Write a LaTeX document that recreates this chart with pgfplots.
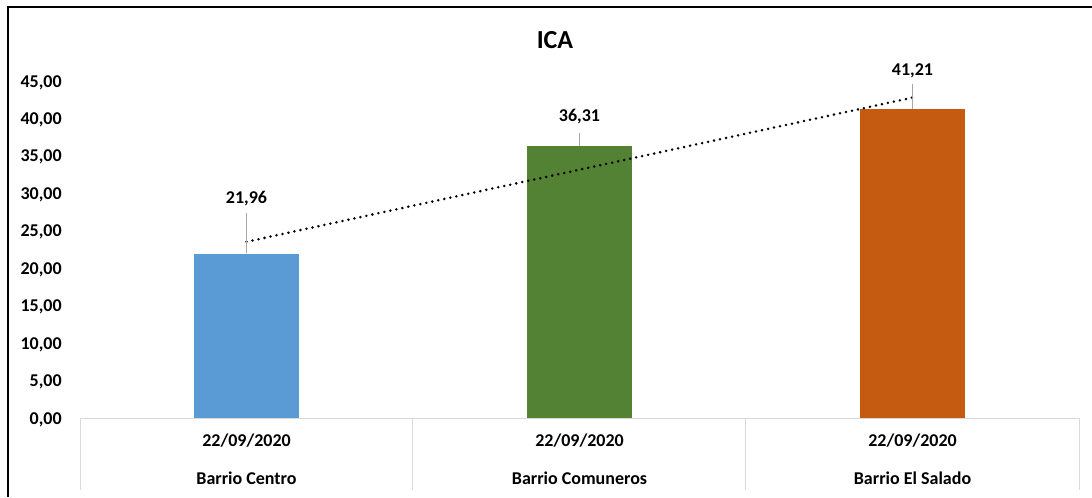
\documentclass[border=0pt]{standalone}
\usepackage{pgfplots}
\usepackage{pgfplotstable}
\pgfplotsset{compat=1.18}
\usepackage{fontspec}
\setmainfont{Carlito}

\definecolor{bluebar}{HTML}{5B9BD5}
\definecolor{greenbar}{HTML}{548235}
\definecolor{orangebar}{HTML}{C55A11}
\definecolor{leadergray}{HTML}{A6A6A6}
\definecolor{catgray}{HTML}{D9D9D9}

\newcommand{\lblfont}{\bfseries\fontsize{13.5}{28.5}\selectfont}

% image pixels -> picture (plot area lower-left at pixel (80,418))
\tikzset{px/.style={x=0.75pt, y=-0.75pt, shift={(-60pt,313.5pt)}}}

\pgfplotstableread{
x y
0 21.96
1 36.31
2 41.21
}\icadata

\begin{document}
\begin{tikzpicture}
\path[px, use as bounding box] (0,0) rectangle (1092,497);

\begin{axis}[
    at={(0,0)}, anchor=south west,
    scale only axis, width=749.25pt, height=252.75pt,
    xmin=-0.5, xmax=2.5, ymin=0, ymax=45,
    clip=false,
    axis line style={draw=none},
    major tick length=0pt,
    /pgf/number format/fixed,
    /pgf/number format/fixed zerofill,
    /pgf/number format/precision=2,
    /pgf/number format/use comma,
    /pgf/number format/assume math mode=true,
    ytick={0,5,...,45},
    yticklabel style={font=\lblfont, anchor=east, inner sep=0pt, xshift=-13.5pt, yshift=-1pt},
    xtick={0,1,2},
    xticklabels={{22/09/2020\\Barrio Centro},{22/09/2020\\Barrio Comuneros},{22/09/2020\\Barrio El Salado}},
    xticklabel style={font=\lblfont, align=center, anchor=north, inner sep=0pt, yshift=-12pt},
    lbl/.style n args={2}{
        nodes near coords={},
        every node near coord/.style={inner sep=0pt, minimum size=0pt,
            pin={[pin distance=#1, font=\lblfont, inner sep=0pt, text depth=0pt,
                  pin edge={draw=leadergray, line width=0.75pt, shorten >=#2}]90:{\pgfmathprintnumber{\pgfplotspointmeta}}}},
    },
]
\addplot[ybar, bar width=78.75pt, bar shift=0pt, fill=bluebar, draw=none,
    restrict x to domain=-0.2:0.2, lbl={36.75pt}{6.4pt}]
    table[x=x, y=y] {\icadata};
\addplot[ybar, bar width=78.75pt, bar shift=0pt, fill=greenbar, draw=none,
    restrict x to domain=0.8:1.2, lbl={18pt}{8.25pt}]
    table[x=x, y=y] {\icadata};
\addplot[ybar, bar width=78.75pt, bar shift=0pt, fill=orangebar, draw=none,
    restrict x to domain=1.8:2.2, lbl={25pt}{6.2pt}]
    table[x=x, y=y] {\icadata};
% linear trend
\addplot[black, line width=2.1pt, dash pattern=on 0pt off 4.6pt, line cap=round]
    table[x=x, y={create col/linear regression={y=y}}] {\icadata};
\end{axis}

\begin{scope}[px]
\draw[black, line width=1.5pt] (8,497) -- (8,7) -- (1092,7);
\draw[catgray, line width=0.75pt] (80,490) -- (80,418) -- (1079,418) -- (1079,490);
\draw[catgray, line width=0.75pt] (412,418) -- (412,490);
\draw[catgray, line width=0.75pt] (745,418) -- (745,490);
\node[font=\bfseries\fontsize{19.5}{22}\selectfont, anchor=base, inner sep=0pt] at (555,48.3) {ICA};
\end{scope}
\end{tikzpicture}
\end{document}
